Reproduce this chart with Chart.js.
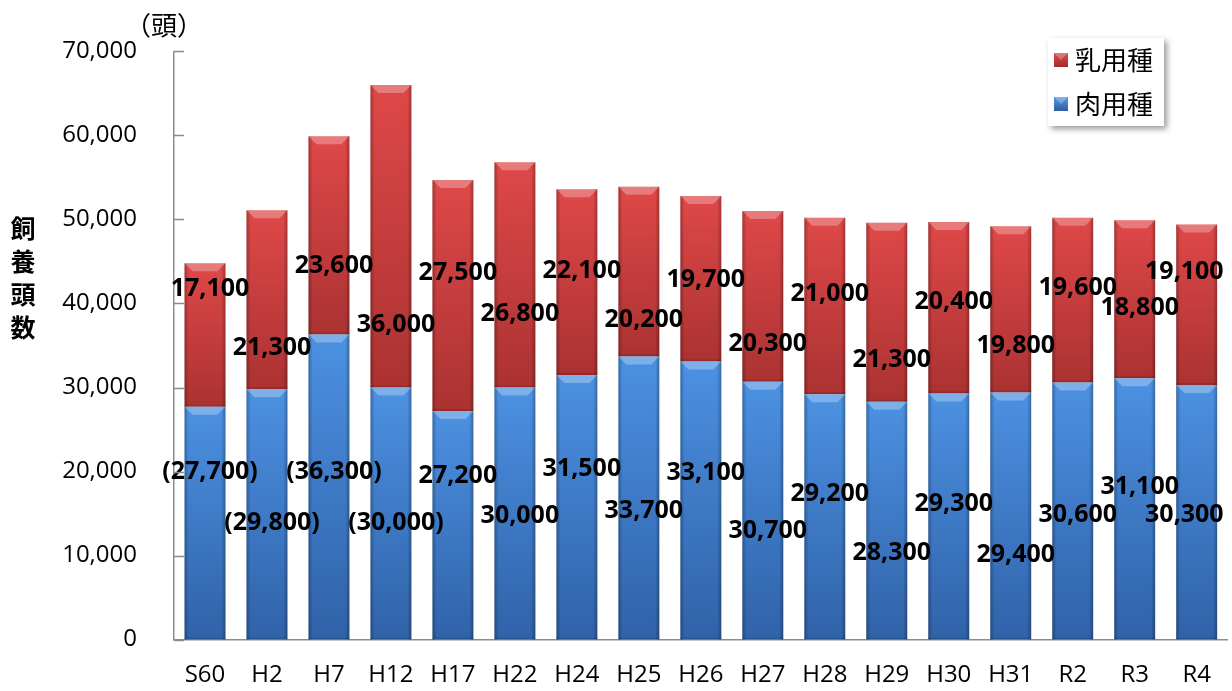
<!DOCTYPE html>
<html lang="ja">
<head>
<meta charset="utf-8">
<script src="https://cdn.jsdelivr.net/npm/chart.js@4.4.1/dist/chart.umd.min.js"></script>
<style>
	html, body { margin: 0; padding: 0; background: #fff; }
</style>
</head>
<body>
<canvas id="myChart" width="1232" height="691"></canvas>
<script>
const years = ["S60", "H2", "H7", "H12", "H17", "H22", "H24", "H25", "H26", "H27", "H28", "H29", "H30", "H31", "R2", "R3", "R4"];
const meat = [27700, 29800, 36300, 30000, 27200, 30000, 31500, 33700, 33100, 30700, 29200, 28300, 29300, 29400, 30600, 31100, 30300];
const dairy = [17100, 21300, 23600, 36000, 27500, 26800, 22100, 20200, 19700, 20300, 21000, 21300, 20400, 19800, 19600, 18800, 19100];
// meat figures shown in brackets in the source
const meatBracketed = [true, true, true, true, false, false, false, false, false, false, false, false, false, false, false, false, false];
const yTicks = [0, 10000, 20000, 30000, 40000, 50000, 60000, 70000];

// where each value label sits (in head units), staggered like the original
const meatLabelAt = [20000, 13900, 20000, 13900, 19450, 14700, 20300, 15300, 19800, 12900, 17400, 10300, 16100, 10100, 14900, 18150, 14900];
const dairyLabelAt = [41750, 34750, 44500, 37500, 43650, 38800, 43900, 38100, 42800, 35200, 41150, 33300, 40200, 34900, 41900, 39500, 43800];

const fmt = (v) => v.toLocaleString("en-US");
const numFont = "'Open Sans', 'Noto Sans', sans-serif";
const jpFont = "'Noto Sans CJK JP', 'Noto Sans', sans-serif";

function segmentFill(which, topColor, bottomColor) {
	return (context) => {
		const chart = context.chart;
		const ys = chart.scales.y;
		if (!ys || context.type !== "data") return topColor;
		const i = context.dataIndex;
		const start = which === 0 ? 0 : meat[i];
		const end = which === 0 ? meat[i] : meat[i] + dairy[i];
		const y0 = ys.getPixelForValue(end);
		const y1 = ys.getPixelForValue(start);
		if (!isFinite(y0) || !isFinite(y1) || y0 === y1) return topColor;
		const g = chart.ctx.createLinearGradient(0, y0, 0, y1);
		g.addColorStop(0, topColor);
		g.addColorStop(1, bottomColor);
		return g;
	};
}

const bevelPlugin = {
	id: "bevel",
	afterDatasetsDraw(chart) {
		const ctx = chart.ctx;
		chart.data.datasets.forEach((ds, di) => {
			const meta = chart.getDatasetMeta(di);
			meta.data.forEach((bar) => {
				const w = bar.width;
				const l = bar.x - w / 2, r = bar.x + w / 2;
				const t = Math.min(bar.y, bar.base), b = Math.max(bar.y, bar.base);
				ctx.save();
				const side = ctx.createLinearGradient(l, 0, r, 0);
				side.addColorStop(0, "rgba(0,0,0,0.28)");
				side.addColorStop(0.1, "rgba(0,0,0,0)");
				side.addColorStop(0.9, "rgba(0,0,0,0)");
				side.addColorStop(1, "rgba(0,0,0,0.28)");
				ctx.fillStyle = side;
				ctx.fillRect(l, t, w, b - t);
				const bv = 8;
				ctx.beginPath();
				ctx.moveTo(l, t);
				ctx.lineTo(r, t);
				ctx.lineTo(r - bv, t + bv);
				ctx.lineTo(l + bv, t + bv);
				ctx.closePath();
				ctx.fillStyle = "rgba(255,255,255,0.28)";
				ctx.fill();
				ctx.fillStyle = "rgba(0,0,0,0.12)";
				ctx.fillRect(l, b - 2, w, 2);
				ctx.restore();
			});
		});
	},
};

const labelPlugin = {
	id: "valueLabels",
	afterDatasetsDraw(chart) {
		const ctx = chart.ctx;
		const ys = chart.scales.y;
		const area = chart.chartArea;
		ctx.save();
		ctx.font = "bold 25px " + numFont;
		ctx.fillStyle = "#000";
		ctx.textAlign = "center";
		ctx.textBaseline = "middle";
		chart.data.datasets.forEach((ds, di) => {
			chart.getDatasetMeta(di).data.forEach((bar, i) => {
				let text = fmt(ds.data[i]);
				if (di === 0 && meatBracketed[i]) text = "(" + text + ")";
				const at = di === 0 ? meatLabelAt[i] : dairyLabelAt[i];
				const w = ctx.measureText(text).width;
				let x = bar.x + 5;
				if (x + w / 2 > area.right - 4) x = area.right - 4 - w / 2;
				ctx.fillText(text, x, ys.getPixelForValue(at));
			});
		});
		ctx.restore();
	},
};

const decorPlugin = {
	id: "decor",
	afterDraw(chart) {
		const ctx = chart.ctx;
		const ys = chart.scales.y;
		const area = chart.chartArea;
		ctx.save();
		// inward tick marks on the value axis
		ctx.strokeStyle = "#8c8c8c";
		ctx.lineWidth = 1.5;
		yTicks.forEach((v) => {
			const y = Math.round(ys.getPixelForValue(v)) + 0.5;
			ctx.beginPath();
			ctx.moveTo(area.left, y);
			ctx.lineTo(area.left + 10, y);
			ctx.stroke();
		});
		// unit
		ctx.fillStyle = "#000";
		ctx.font = "26px " + jpFont;
		ctx.textAlign = "center";
		ctx.textBaseline = "middle";
		ctx.fillText("（頭）", 164, 25);
		// vertical axis title
		ctx.font = "bold 25px " + jpFont;
		["飼", "養", "頭", "数"].forEach((c, k) => ctx.fillText(c, 23, 228 + k * 33));
		// legend box
		const bx = 1048, by = 38, bw = 116, bh = 88;
		ctx.save();
		ctx.shadowColor = "rgba(0,0,0,0.4)";
		ctx.shadowBlur = 6;
		ctx.shadowOffsetX = 3;
		ctx.shadowOffsetY = 3;
		ctx.fillStyle = "#fff";
		ctx.fillRect(bx, by, bw, bh);
		ctx.restore();
		const items = [
			{ text: "乳用種", top: "#e04a4a", bottom: "#a02c2c", y: 60 },
			{ text: "肉用種", top: "#5499e8", bottom: "#2e5d9f", y: 104 },
		];
		items.forEach((it) => {
			const sx = 1054, s = 14, sy = it.y - 7;
			const g = ctx.createLinearGradient(0, sy, 0, sy + s);
			g.addColorStop(0, it.top);
			g.addColorStop(1, it.bottom);
			ctx.fillStyle = g;
			ctx.fillRect(sx, sy, s, s);
			ctx.beginPath();
			ctx.moveTo(sx, sy);
			ctx.lineTo(sx + s, sy);
			ctx.lineTo(sx + s / 2, sy + s / 2);
			ctx.closePath();
			ctx.fillStyle = "rgba(255,255,255,0.25)";
			ctx.fill();
			ctx.fillStyle = "#000";
			ctx.font = "26px " + jpFont;
			ctx.textAlign = "left";
			ctx.fillText(it.text, 1075, it.y);
		});
		ctx.restore();
	},
};

const ctx = document.getElementById("myChart");

const myChart = new Chart(ctx, {
	type: "bar",
	data: {
		labels: years,
		datasets: [
			{
				label: "肉用種",
				data: meat,
				backgroundColor: segmentFill(0, "#4c91e2", "#3062a8"),
				borderWidth: 0,
				categoryPercentage: 1,
				barPercentage: 0.66,
			},
			{
				label: "乳用種",
				data: dairy,
				backgroundColor: segmentFill(1, "#df4848", "#ab3232"),
				borderWidth: 0,
				categoryPercentage: 1,
				barPercentage: 0.66,
			},
		],
	},
	options: {
		responsive: false,
		animation: false,
		devicePixelRatio: 1,
		layout: {
			padding: { top: 51, right: 2, left: 0, bottom: 0 },
		},
		plugins: {
			legend: { display: false },
			tooltip: { enabled: false },
		},
		scales: {
			x: {
				stacked: true,
				grid: { display: false, drawTicks: false },
				border: { display: true, color: "#8c8c8c", width: 1.5 },
				ticks: {
					color: "#000",
					padding: 21,
					maxRotation: 0,
					font: { family: numFont, size: 24 },
				},
				afterFit: (scale) => { scale.height = 50; },
			},
			y: {
				stacked: true,
				min: 0,
				max: 70000,
				grid: { display: false, drawTicks: false },
				border: { display: true, color: "#8c8c8c", width: 1.5 },
				afterBuildTicks: (scale) => { scale.ticks = yTicks.map((v) => ({ value: v })); },
				ticks: {
					color: "#000",
					padding: 37,
					font: { family: numFont, size: 24 },
					callback: (v) => fmt(v),
				},
				afterFit: (scale) => { scale.width = 174; },
			},
		},
	},
	plugins: [bevelPlugin, labelPlugin, decorPlugin],
});
</script>
</body>
</html>
